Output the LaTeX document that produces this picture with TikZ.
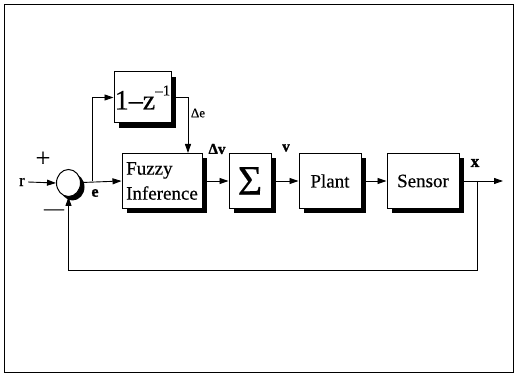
\documentclass[tikz,border=0pt]{standalone}
\usepackage{fontspec}
\setmainfont{Liberation Serif}[FakeBold=0.4,BoldFeatures={FakeBold=1.5}]
\usetikzlibrary{arrows.meta,shapes.geometric,shadows}
\begin{document}
\begin{tikzpicture}[x=1pt,y=-1pt,
  blk/.style={draw,line width=1pt,fill=white,minimum width=#1,minimum height=55pt,inner sep=0pt,
    drop shadow={shadow xshift=5pt,shadow yshift=-5pt,fill=black,opacity=1}},
  arr/.style={line width=0.9pt,-{Triangle[length=9pt,width=6pt]}},
  ln/.style={line width=0.9pt},
  lab/.style={font=\fontsize{15}{15}\selectfont\bfseries,inner sep=0pt}]
\useasboundingbox (0,0) rectangle (517,374);
\draw[line width=0.8pt] (4,4) rectangle (513,372);

\node[blk=57pt,minimum height=51pt] (delay) at (142.5,97.5)
  {\fontsize{28}{28}\selectfont 1–z\raisebox{0.5em}{\fontsize{15}{15}\selectfont –1}};
\node[blk=80pt,align=left,font=\fontsize{19}{25}\selectfont] (fuzzy) at (162,181) {Fuzzy\\Inference};
\node[blk=42pt] (sigma) at (250,181) {\fontsize{42}{42}\selectfont Σ};
\node[blk=62pt,font=\fontsize{19}{20}\selectfont] (plant) at (330,181) {Plant};
\node[blk=72pt,font=\fontsize{19}{20}\selectfont] (sensor) at (423,181) {Sensor};
\node[draw,ellipse,line width=1pt,fill=white,minimum width=24pt,minimum height=27pt,inner sep=0pt,
  drop shadow={shadow xshift=4pt,shadow yshift=-4pt,fill=black,opacity=1}] (sum) at (68.5,183) {};

\node[inner sep=0pt,font=\fontsize{17}{17}\selectfont] (r) at (22,182) {r};
\node[inner sep=0pt,font=\fontsize{26}{26}\selectfont] (plus) at (43,159) {+};
\node[inner sep=0pt,font=\fontsize{20}{20}\selectfont] (minus) at (54,212) {—};
\node[lab,font=\fontsize{16}{16}\selectfont\bfseries] (e) at (95,193) {e};
\node[lab,font=\fontsize{13}{13}\selectfont] (de) at (198,113) {Δe};
\node[lab] (dv) at (217,149) {Δv};
\node[lab] (v) at (286,148) {v};
\node[lab,font=\fontsize{17}{17}\selectfont\bfseries] (x) at (475,163) {x};

\coordinate (br) at (92,181);
\coordinate (out) at (503,181);
\coordinate (fb) at (477,181);

\draw[arr] (r.east) ++(3pt,0) coordinate (rs) -- (sum.west);
\draw[arr] (sum) -- (fuzzy.west);
\draw[arr] (br) |- (delay.west);
\draw[arr] (delay.east) -| ([xshift=26pt]fuzzy.north);
\draw[arr] (fuzzy) -- (sigma);
\draw[arr] (sigma) -- (plant);
\draw[arr] (plant) -- (sensor);
\draw[arr] (sensor) -- (out);
\draw[arr] (fb) -- ++(0,89) -| (sum.south);
\end{tikzpicture}
\end{document}
